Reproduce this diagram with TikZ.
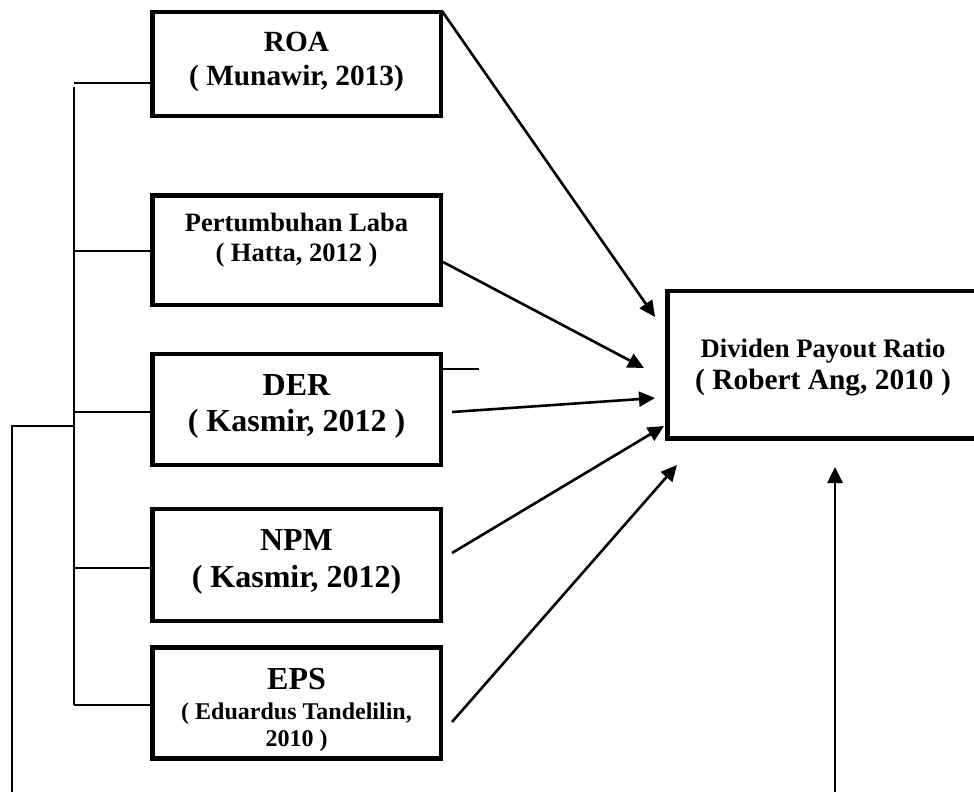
\documentclass[tikz,border=0pt]{standalone}
\usepackage{fontspec}
\setmainfont{Liberation Serif}
\usetikzlibrary{arrows.meta}
\newcommand{\fsz}[1]{\fontsize{#1}{#1}\selectfont\bfseries}
\begin{document}
\begin{tikzpicture}[x=1pt,y=-1pt,
  boxst/.style={draw, line width=4.5pt, inner sep=0pt, minimum width=288.5pt},
  lbl/.style={anchor=base, inner sep=0pt},
  thinln/.style={line width=2pt},
  arr/.style={line width=2.6pt, -{Triangle[length=16pt,width=15pt]}}]
\useasboundingbox (0,0) rectangle (974,792);
% boxes
\node[boxst, minimum height=103.5pt] (roa) at (296.5,64) {};
\node[boxst, minimum height=109.5pt] (pl) at (296.5,250) {};
\node[boxst, minimum height=111pt] (der) at (296.5,409.5) {};
\node[boxst, minimum height=112pt] (npm) at (296.5,565) {};
\node[boxst, minimum height=111pt] (eps) at (296.5,703) {};
\node[boxst, minimum width=312.5pt, minimum height=147.5pt] (dpr) at (823.5,364.5) {};
% texts
\node[lbl] (roa1) at (296.5,52) {\fsz{29.3}ROA};
\node[lbl] (roa2) at (296.5,85) {\fsz{29.3}( Munawir, 2013)};
\node[lbl] (pl1) at (296.5,231) {\fsz{26.5}Pertumbuhan Laba};
\node[lbl] (pl2) at (296.5,261.7) {\fsz{26.5}( Hatta, 2012 )};
\node[lbl] (der1) at (296.5,395) {\fsz{32}DER};
\node[lbl] (der2) at (296.5,431.7) {\fsz{32}( Kasmir, 2012 )};
\node[lbl] (npm1) at (296.5,550.7) {\fsz{32}NPM};
\node[lbl] (npm2) at (296.5,587) {\fsz{32}( Kasmir, 2012)};
\node[lbl] (eps1) at (296.5,689) {\fsz{32}EPS};
\node[lbl] (eps2) at (296.5,719) {\fsz{24}( Eduardus Tandelilin,};
\node[lbl] (eps3) at (296.5,746) {\fsz{24}2010 )};
\node[lbl] (dpr1) at (823,357) {\fsz{26.7}Dividen Payout Ratio};
\node[lbl] (dpr2) at (823,389.6) {\fsz{29.4}( Robert Ang, 2010 )};
% left bus
\coordinate (bt) at (74,87);
\coordinate (t1) at (74,83);
\coordinate (t2) at (74,251);
\coordinate (t3) at (74,412);
\coordinate (t4) at (74,568);
\coordinate (t5) at (74,705);
\coordinate (oc) at (74,426);
\coordinate (ol) at (12,426);
\coordinate (ob) at (12,800);
\draw[thinln] (bt) -- (t5);
\draw[thinln] (t1) -- (t1 -| roa.west);
\draw[thinln] (t2) -- (t2 -| pl.west);
\draw[thinln] (t3) -- (t3 -| der.west);
\draw[thinln] (t4) -- (t4 -| npm.west);
\draw[thinln] (t5) -- (t5 -| eps.west);
\draw[thinln] (oc) -- (ol) -- (ob);
% short line at DER
\coordinate (ds) at (442,369);
\coordinate (de) at (479,369);
\draw[thinln] (ds) -- (de);
% arrows
\coordinate (s1) at (442,11);
\coordinate (e1) at (655,317);
\coordinate (s2) at (443,262);
\coordinate (e2) at (644,368);
\coordinate (s3) at (452,412);
\coordinate (e3) at (655,398);
\coordinate (s4) at (452,553);
\coordinate (e4) at (664,426);
\coordinate (s5) at (452,722);
\coordinate (e5) at (677,465);
\coordinate (s6) at (835,800);
\coordinate (e6) at (835,467);
\draw[arr] (s1) -- (e1);
\draw[arr] (s2) -- (e2);
\draw[arr] (s3) -- (e3);
\draw[arr] (s4) -- (e4);
\draw[arr] (s5) -- (e5);
\draw[arr] (s6) -- (e6);
\end{tikzpicture}
\end{document}
